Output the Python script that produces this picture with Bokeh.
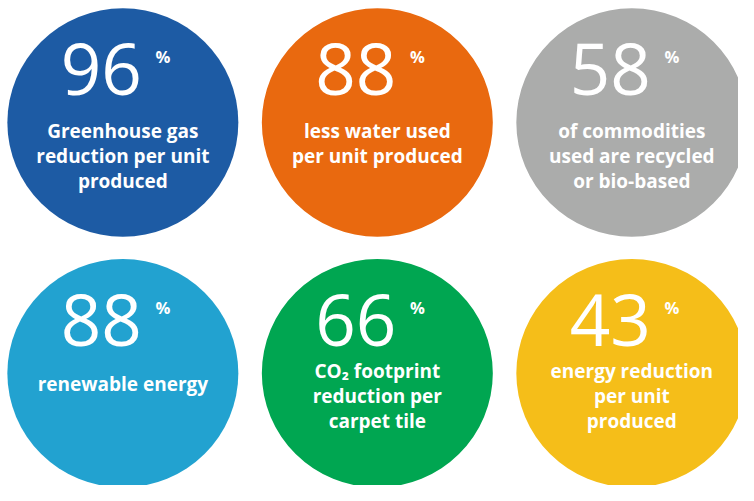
from bokeh.plotting import figure
from bokeh.models import ColumnDataSource, Range1d
from bokeh.embed import file_html
from bokeh.resources import INLINE
from bokeh.core.properties import value

values = [96, 88, 58, 88, 66, 43]
labels = [
    "Greenhouse gas\nreduction per unit\nproduced",
    "less water used\nper unit produced",
    "of commodities\nused are recycled\nor bio-based",
    "renewable energy",
    "CO\u2082 footprint\nreduction per\ncarpet tile",
    "energy reduction\nper unit\nproduced",
]
colors = ["#1D5BA4", "#E9690F", "#ABACAB", "#22A2D0", "#00A651", "#F5BE19"]
label_offsets = [9, 9, 9, 11, -2, -2]  # vertical offset of first label line

W, H = 738, 485
p = figure(width=W, height=H, output_backend="svg", toolbar_location=None,
           x_range=Range1d(0, 754), y_range=Range1d(501, 0),
           min_border=0, border_fill_color="white", background_fill_color="white")
p.axis.visible = False
p.grid.visible = False
p.outline_line_color = None

cx, cy, nx, ny, px, py, lx, ly, ltxt = [], [], [], [], [], [], [], [], []
for i, v in enumerate(values):
    col, row = i % 3, i // 3
    x = 125 + col * 260
    y = 126 + row * 259
    cx.append(x); cy.append(y)
    nx.append(x - 22); ny.append(y - 55)
    px.append(x + 41); py.append(y - 68)
    for j, line in enumerate(labels[i].split("\n")):
        lx.append(x); ly.append(y + label_offsets[i] + j * 25.5); ltxt.append(line)

src = ColumnDataSource(dict(x=cx, y=cy, c=colors, n=[str(v) for v in values],
                            nx=nx, ny=ny, px=px, py=py, pc=["%"] * len(values)))
p.ellipse(x="x", y="y", width=236, height=236, fill_color="c", line_color=None, source=src)
p.text(x="nx", y="ny", text="n", source=src, text_color="white",
       text_font=value("Open Sans"), text_font_size="71px",
       text_align="center", text_baseline="middle")
p.text(x="px", y="py", text="pc", source=src, text_color="white",
       text_font=value("Open Sans"), text_font_size="16.5px", text_font_style="bold",
       text_align="center", text_baseline="middle")
lsrc = ColumnDataSource(dict(x=lx, y=ly, t=ltxt))
p.text(x="x", y="y", text="t", source=lsrc, text_color="white",
       text_font=value("Open Sans"), text_font_size="19px", text_font_style="bold",
       text_align="center", text_baseline="middle")

open("out.html", "w").write(file_html(p, INLINE))
